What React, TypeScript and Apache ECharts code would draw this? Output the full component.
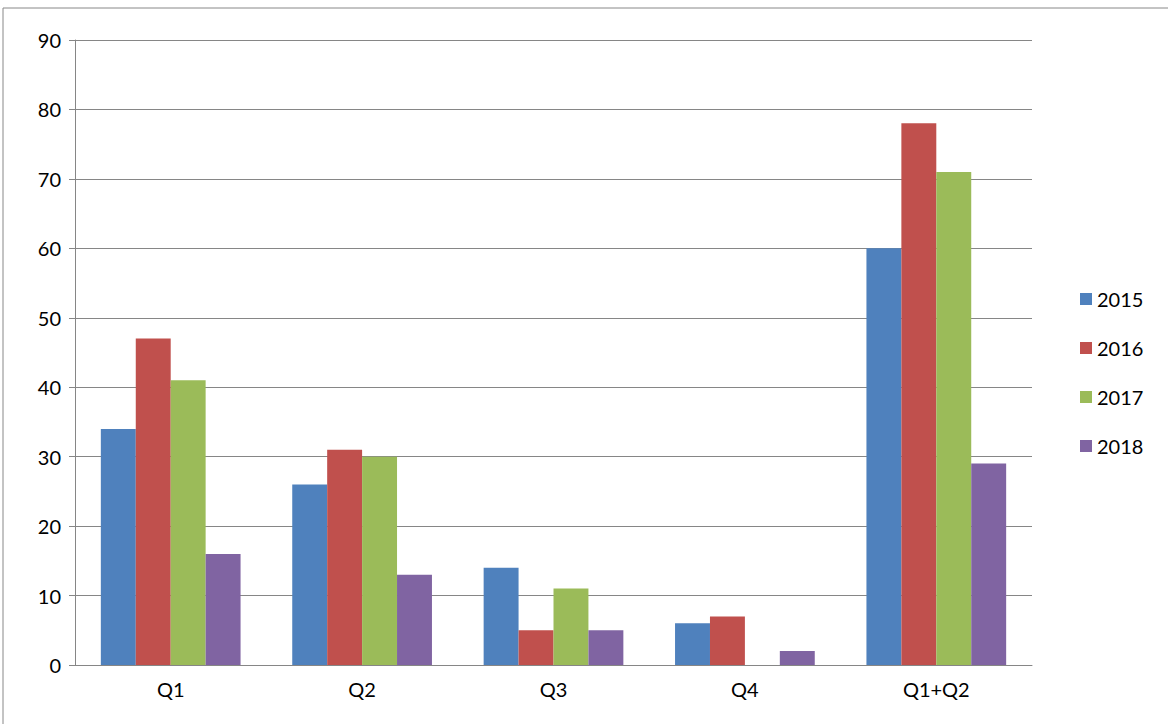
import { useEffect, useRef } from "react";
import * as echarts from "echarts";

const categories = ["Q1", "Q2", "Q3", "Q4", "Q1+Q2"];
const seriesNames = ["2015", "2016", "2017", "2018"];
const values2015 = [34, 26, 14, 6, 60];
const values2016 = [47, 31, 5, 7, 78];
const values2017 = [41, 30, 11, 0, 71];
const values2018 = [16, 13, 5, 2, 29];
const colors = ["#4F81BD", "#C0504D", "#9BBB59", "#8064A2"];

export default function App() {
  const ref = useRef<HTMLDivElement | null>(null);

  useEffect(() => {
    document.body.style.margin = "0";
    const el = ref.current;
    if (!el) return undefined;
    const chart = echarts.init(el, undefined, { renderer: "svg" });
    const font = "Lato, 'Open Sans', sans-serif";
    const data = [values2015, values2016, values2017, values2018];
    chart.setOption({
      animation: false,
      backgroundColor: "#fff",
      textStyle: { fontFamily: font },
      graphic: [
        {
          type: "rect",
          shape: { x: 3, y: 8, width: 1180, height: 730 },
          style: { fill: "none", stroke: "#888", lineWidth: 1 },
        },
      ],
      grid: { left: 75, right: 136, top: 40, bottom: 59 },
      legend: {
        orient: "vertical",
        left: 1075,
        top: 284,
        itemWidth: 12,
        itemHeight: 12,
        itemGap: 29,
        icon: "rect",
        textStyle: { fontSize: 20, color: "#000", fontFamily: font },
        data: seriesNames,
      },
      xAxis: {
        type: "category",
        data: categories,
        axisLine: { lineStyle: { color: "#868686" } },
        axisTick: { length: 8, lineStyle: { color: "#868686" } },
        axisLabel: { fontSize: 20, color: "#000", margin: 14 },
      },
      yAxis: {
        type: "value",
        min: 0,
        max: 90,
        interval: 10,
        axisLine: { show: true, lineStyle: { color: "#868686" } },
        axisTick: { show: true, length: 6, lineStyle: { color: "#868686" } },
        axisLabel: { fontSize: 20, color: "#000", margin: 14 },
        splitLine: { lineStyle: { color: "#868686" } },
      },
      series: seriesNames.map((name, i) => ({
        name,
        type: "bar",
        data: data[i],
        barGap: "0%",
        barCategoryGap: "27%",
        itemStyle: { color: colors[i] },
      })),
    });
    return () => chart.dispose();
  }, []);

  return <div ref={ref} style={{ width: 1168, height: 724 }} />;
}
